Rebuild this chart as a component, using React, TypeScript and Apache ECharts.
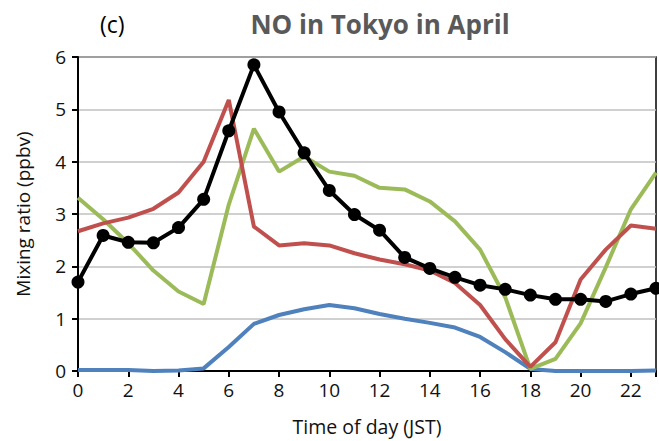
import React, { useEffect, useRef } from "react";
import * as echarts from "echarts";

const hours = [0,1,2,3,4,5,6,7,8,9,10,11,12,13,14,15,16,17,18,19,20,21,22,23];
const blackSeries = [1.70,2.59,2.46,2.45,2.74,3.28,4.59,5.85,4.95,4.17,3.45,2.99,2.69,2.17,1.96,1.79,1.64,1.56,1.45,1.37,1.37,1.33,1.47,1.58];
const redSeries = [2.67,2.82,2.93,3.10,3.41,4.00,5.18,2.76,2.40,2.44,2.40,2.25,2.13,2.04,1.92,1.68,1.26,0.61,0.08,0.55,1.75,2.32,2.78,2.72];
const greenSeries = [3.31,2.90,2.44,1.92,1.52,1.28,3.18,4.63,3.81,4.10,3.81,3.73,3.50,3.47,3.24,2.86,2.32,1.41,0.04,0.23,0.91,1.98,3.09,3.79];
const blueSeries = [0.02,0.02,0.02,0.00,0.01,0.05,0.46,0.90,1.07,1.18,1.26,1.20,1.09,1.00,0.92,0.83,0.65,0.36,0.04,0.00,0.00,0.00,0.00,0.01];

const FONT = "'Open Sans', Lato, sans-serif";

function pairs(v: number[]) {
  return hours.map((h, i) => [h, v[i]]);
}

export default function App() {
  const ref = useRef<HTMLDivElement>(null);
  useEffect(() => {
    const chart = echarts.init(ref.current!, null, { renderer: "svg" });
    chart.setOption({
      animation: false,
      backgroundColor: "#fff",
      title: [
        { text: "NO in Tokyo in April", left: 375, top: 6, textAlign: "center",
          textStyle: { fontFamily: FONT, fontSize: 26, fontWeight: "bold", color: "#595959" } },
        { text: "(c)", left: 95, top: 7,
          textStyle: { fontFamily: FONT, fontSize: 23, fontWeight: "normal", color: "#000" } },
      ],
      grid: { left: 78, right: 2, top: 57, bottom: 69, show: true, borderColor: "#000", borderWidth: 1.5, containLabel: false },
      xAxis: {
        type: "value", min: 0, max: 23, interval: 2,
        name: "Time of day (JST)", nameLocation: "middle", nameGap: 45,
        nameTextStyle: { fontFamily: FONT, fontSize: 19.5, color: "#111" },
        axisLine: { lineStyle: { color: "#000", width: 2 } },
        axisTick: { show: true, length: 6, lineStyle: { color: "#000", width: 2 } },
        axisLabel: { fontFamily: FONT, fontSize: 19, color: "#111", margin: 9,
          formatter: (v: number) => (v % 2 === 0 ? String(v) : "") },
        splitLine: { show: false },
      },
      yAxis: {
        type: "value", min: 0, max: 6, interval: 1,
        name: "Mixing ratio (ppbv)", nameLocation: "middle", nameGap: 46,
        nameTextStyle: { fontFamily: FONT, fontSize: 19, color: "#111" },
        axisLine: { show: true, lineStyle: { color: "#000", width: 2 } },
        axisTick: { show: true, length: 6, lineStyle: { color: "#000", width: 2 } },
        axisLabel: { fontFamily: FONT, fontSize: 19, color: "#111", margin: 12 },
        splitLine: { show: true, lineStyle: { color: "#c0c0c0", width: 1.5 } },
      },
      series: [
        { type: "line", data: pairs(blueSeries), showSymbol: false, lineStyle: { color: "#4F81BD", width: 4 }, itemStyle: { color: "#4F81BD" } },
        { type: "line", data: pairs(greenSeries), showSymbol: false, lineStyle: { color: "#9BBB59", width: 4 }, itemStyle: { color: "#9BBB59" } },
        { type: "line", data: pairs(redSeries), showSymbol: false, lineStyle: { color: "#C0504D", width: 4 }, itemStyle: { color: "#C0504D" } },
        { type: "line", data: pairs(blackSeries), symbol: "circle", symbolSize: 13, lineStyle: { color: "#000", width: 4 }, itemStyle: { color: "#000" } },
      ],
    });
    return () => chart.dispose();
  }, []);
  return <div ref={ref} style={{ width: 659, height: 441, position: "absolute", left: 0, top: 0 }} />;
}
